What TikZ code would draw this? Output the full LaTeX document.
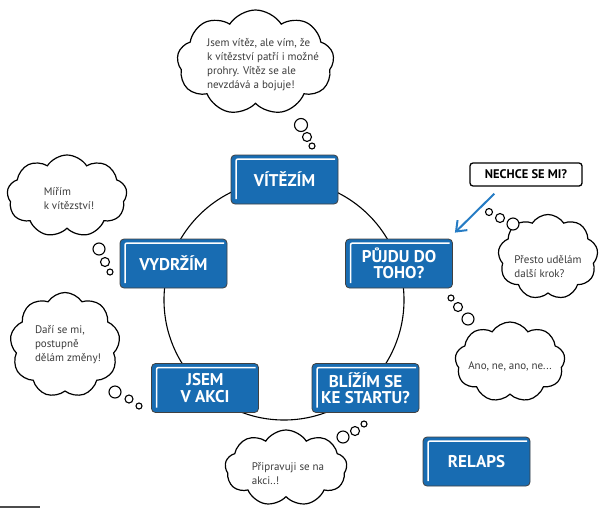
\documentclass[tikz,border=0pt]{standalone}
\usepackage{fontspec}
\setmainfont{PT Sans}
\usetikzlibrary{shapes.symbols,arrows.meta}
\definecolor{boxblue}{RGB}{24,108,178}
\definecolor{arrowblue}{RGB}{38,124,196}
\definecolor{txtgray}{RGB}{60,60,60}
\begin{document}
\begin{tikzpicture}[x=1pt,y=1pt,
  stagebox/.style={rectangle, rounded corners=4pt, fill=boxblue, draw=black!75,
    line width=0.8pt, minimum width=107pt, minimum height=49pt, text=white,
    font=\bfseries\fontsize{17}{16.5}\selectfont, align=center, inner sep=2pt,
    path picture={\draw[white,line width=1.5pt,rounded corners=2pt]
      ([shift={(5pt,5pt)}]path picture bounding box.south west) |-
      ([shift={(-3pt,-4pt)}]path picture bounding box.north east);}},
  thought/.style={cloud, draw, line width=1.2pt, cloud puffs=9, cloud puff arc=115,
    cloud ignores aspect, fill=white, inner sep=0pt},
  cloudtext/.style={align=left, inner sep=0pt, text=txtgray,
    font=\fontsize{11}{14}\selectfont},
  bubble/.style={draw, line width=1.1pt, fill=white},
  ring/.style={circle, draw, line width=1.1pt, minimum size=240pt, inner sep=0pt}
]
\useasboundingbox (0,0) rectangle (601,-509);

\node[ring] (ring) at (284,-300) {};

\node[stagebox] (vitezim) at (284.5,-179.5) {VÍTĚZÍM};
\node[stagebox] (vydrzim) at (173.5,-263.5) {VYDRŽÍM};
\node[stagebox] (pujdu) at (399,-263.5) {PŮJDU DO\\TOHO?};
\node[stagebox] (jsem) at (205,-388) {JSEM\\V AKCI};
\node[stagebox] (blizim) at (365.5,-388) {BLÍŽÍM SE\\KE STARTU?};
\node[stagebox] (relaps) at (476.5,-461.5) {RELAPS};

\node[draw, line width=1.3pt, rounded corners=3pt, fill=white, minimum width=112pt,
  minimum height=23pt, inner sep=1pt, font=\bfseries\fontsize{12.5}{14}\selectfont]
  (nechce) at (526,-174.5) {NECHCE SE MI?};
\draw[arrowblue, line width=2pt, -{Straight Barb[length=9pt,width=14pt]}]
  ([shift={(25pt,-7pt)}]nechce.south west) -- ([shift={(2pt,6pt)}]pujdu.north east);

\node[thought, minimum width=157pt, minimum height=105pt] (c1) at (255.5,-62.5) {};
\node[cloudtext] (t1) at ([shift={(7.5pt,-2.5pt)}]c1.center)
  {Jsem vítěz, ale vím, že\\k vítězství patří i možné\\prohry. Vítěz se ale\\nevzdává a bojuje!};
\node[thought, minimum width=120pt, minimum height=82pt] (c2) at (67,-196) {};
\node[cloudtext] (t2) at ([shift={(2pt,-3pt)}]c2.center) {Mířím\\k vítězství!};
\node[thought, minimum width=110pt, minimum height=105pt] (c3) at (65,-345) {};
\node[cloudtext] (t3) at ([shift={(3pt,0pt)}]c3.center) {Daří se mi,\\postupně\\dělám změny!};
\node[thought, minimum width=122pt, minimum height=76pt] (c4) at (286,-468) {};
\node[cloudtext] (t4) at ([shift={(2pt,-6pt)}]c4.center) {Připravuji se na\\akci..!};
\node[thought, minimum width=100pt, minimum height=85pt] (c5) at (548,-257) {};
\node[cloudtext] (t5) at ([shift={(0pt,-10pt)}]c5.center) {Přesto udělám\\další krok?};
\node[thought, minimum width=110pt, minimum height=80pt] (c6) at (510,-362) {};
\node[cloudtext] (t6) at ([shift={(0pt,-4pt)}]c6.center) {Ano, ne, ano, ne...};

\draw[bubble] (301,-125) circle (6.5) (307,-137) circle (4.5) (312,-146) circle (3);
\draw[bubble] (99,-249) circle (6) (105,-262) circle (4.5) (110,-272) circle (3);
\draw[bubble] (115,-392) circle (6) (129,-399) circle (4) (139,-406) circle (3);
\draw[bubble] (343,-437) circle (6) (355,-431) circle (4.5) (364,-424) circle (3);
\draw[bubble] (489,-212) circle (3.5) (500,-218) circle (4.5) (513,-224) circle (6);
\draw[bubble] (451,-298) circle (3) (458,-307) circle (4.5) (468,-319) circle (6);

\draw[black!70, line width=1.5pt] (0,-507) -- (40,-507);
\end{tikzpicture}
\end{document}
